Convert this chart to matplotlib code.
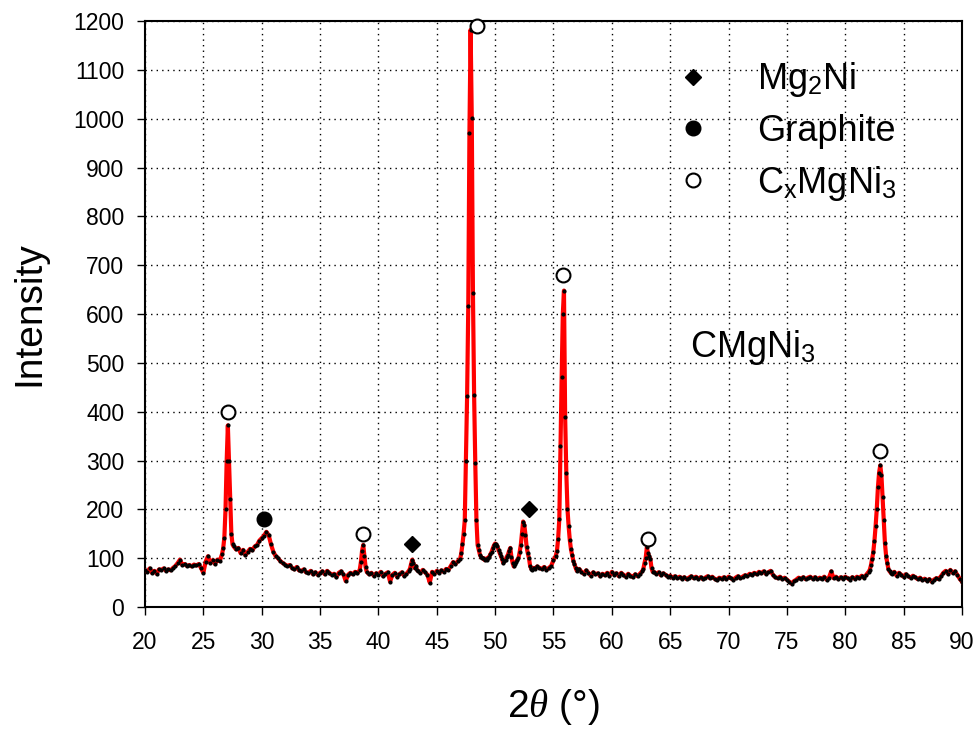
import numpy as np
import matplotlib
matplotlib.use('Agg')
import matplotlib.pyplot as plt
from matplotlib.lines import Line2D

# fonts: Arial-like text, sans subscripts
plt.rcParams['font.family'] = ['Liberation Sans', 'DejaVu Sans']
plt.rcParams['mathtext.fontset'] = 'custom'
plt.rcParams['mathtext.rm'] = 'Liberation Sans'
plt.rcParams['mathtext.it'] = 'Liberation Serif:italic'
plt.rcParams['mathtext.bf'] = 'Liberation Sans:bold'

# XRD pattern, in pieces (start 2theta, step, intensities)
base_a = [75, 72, 79, 70, 74, 68, 77, 76, 79, 74, 77, 75, 80, 84, 90, 97, 86, 88, 84, 86,
          83, 87, 85, 88, 80, 70, 93, 104, 90, 96, 88, 97, 94, 108]
peak_27 = [120, 142, 200, 300, 372, 300, 222, 150, 128]
base_b = [124, 118, 121, 110, 117, 106, 113, 119, 116, 124, 127, 136, 141, 146, 154, 147, 128, 113, 104, 100,
          94, 90, 87, 84, 86, 80, 77, 82, 75, 74, 77, 71, 70, 74, 67, 71, 66, 70, 73, 67,
          74, 70, 66, 68, 61, 70, 73, 67, 53, 66, 70, 67, 72, 69, 76]
peak_39 = [92, 115, 127, 104, 82]
base_c = [72, 67, 70, 64, 69, 66, 72, 63, 68, 71, 52, 66, 70, 62, 67, 71, 64, 68, 74]
peak_43 = [78, 88, 97, 90, 80, 84, 76]
base_d = [74, 70, 76, 71, 66, 50, 72, 68, 74, 70, 75, 72, 78, 76, 84, 92, 88, 94, 98]
peak_48 = [110, 128, 150, 178, 300, 432, 616, 971, 1182, 1001, 643, 434, 295, 178, 127, 117, 107, 102, 100]
base_e = [100, 96, 99, 97, 101, 103, 108, 113, 120, 126, 130, 128, 124, 116, 110, 104, 98, 90, 94, 97,
          103, 107, 115, 121, 102, 90, 83, 88, 93, 97, 100, 112, 127, 150, 175, 168, 148, 123, 110, 100,
          84, 78, 76, 80, 78]
base_f = [83, 80, 78, 82, 76, 80, 84, 96, 105]
peak_56 = [115, 140, 180, 330, 470, 600, 648, 390, 275, 200, 165, 137, 118, 106, 95, 88, 80]
base_g = [74, 78, 72, 68, 75, 70, 64, 71, 67, 69, 63, 68, 65, 70, 64, 72, 66, 69, 63, 70,
          66, 62, 68, 64, 61, 67, 63, 68, 73]
peak_63 = [78, 90, 100, 122, 110, 104, 98, 80, 72]
base_h = [72, 68, 71, 65, 69, 66, 62, 64, 60, 63, 59, 62, 58, 61, 57, 60, 63, 59, 62, 58,
          61, 57, 60, 63, 59, 62, 58, 55, 60, 58, 61, 57, 62, 59, 56, 60, 63, 59, 62, 65,
          63, 68, 66, 70, 67, 72, 69, 73, 68, 71, 74, 66, 61, 59, 62, 57, 60, 56, 52, 48,
          53, 56, 60, 58, 61, 57, 60, 62, 58, 61, 57, 60, 58, 62, 56, 60, 73, 59, 62, 57,
          61, 58, 62, 59, 56, 61, 58, 62, 59, 64, 60, 66, 72]
peak_83 = [76, 85, 98, 112, 135, 165, 200, 245, 275, 290, 270, 225, 178, 131, 105, 90, 78, 73, 70]
base_i = [68, 72, 64, 70, 66, 62, 67, 63, 60, 64, 61, 57, 60, 55, 58, 54, 57, 52, 56, 59,
          57, 63, 70, 74, 68, 76, 70, 73, 66, 58, 52]

pieces = [(20.0, 0.2, base_a), (26.7, 0.1, peak_27), (27.6, 0.2, base_b), (38.5, 0.1, peak_39),
          (39.0, 0.2, base_c), (42.7, 0.1, peak_43), (43.4, 0.2, base_d), (47.1, 0.1, peak_48),
          (49.0, 0.1, base_e), (53.6, 0.2, base_f), (55.3, 0.1, peak_56), (57.0, 0.2, base_g),
          (62.7, 0.1, peak_63), (63.6, 0.2, base_h), (82.1, 0.1, peak_83), (84.0, 0.2, base_i)]

two_theta = np.concatenate([s + d * np.arange(len(v)) for s, d, v in pieces])
intensity = np.concatenate([v for s, d, v in pieces])

# phase markers
cxmgni3_x = [27.1, 38.7, 48.45, 55.8, 63.1, 83.0]
cxmgni3_y = [400, 150, 1190, 680, 140, 320]
graphite_x = [30.2]
graphite_y = [180]
mg2ni_x = [42.9, 52.9]
mg2ni_y = [130, 200]

fig = plt.figure(figsize=(9.77, 7.30), dpi=100)
ax = fig.add_axes([0.1484, 0.1685, 0.8362, 0.8027])

ax.plot(two_theta, intensity, color='red', lw=3, marker='o', ms=2,
        mfc='black', mec='black', zorder=3)

ax.plot(mg2ni_x, mg2ni_y, 'D', color='black', ms=8.5, ls='none', zorder=4, clip_on=False)
ax.plot(graphite_x, graphite_y, 'o', color='black', ms=10.5, ls='none', zorder=4, clip_on=False)
ax.plot(cxmgni3_x, cxmgni3_y, 'o', mfc='white', mec='black', mew=1.5, ms=10,
        ls='none', zorder=4, clip_on=False)

ax.set_xlim(20, 90)
ax.set_ylim(0, 1200)
ax.set_xticks(np.arange(20, 91, 5))
ax.set_yticks(np.arange(0, 1201, 100))
ax.tick_params(direction='out', length=6, width=1, labelsize=16.5)
ax.tick_params(axis='x', pad=11)
ax.tick_params(axis='y', pad=9)
for sp in ax.spines.values():
    sp.set_linewidth(1.5)

ax.grid(True, linestyle=(0, (1, 3)), color='black', linewidth=1)
ax.set_axisbelow(True)

ax.set_ylabel('Intensity', fontsize=28)
ax.set_xlabel(r'2$\theta$ (°)', fontsize=28)
ax.yaxis.set_label_coords(-0.119, 0.5)
ax.xaxis.set_label_coords(0.5, -0.137)

ax.text(0.667, 0.442, r'CMgNi$_3$', transform=ax.transAxes, fontsize=26, va='center', ha='left')

handles = [Line2D([], [], marker='D', color='black', ls='none', ms=8.5),
           Line2D([], [], marker='o', color='black', ls='none', ms=10.5),
           Line2D([], [], marker='o', mfc='white', mec='black', mew=1.5, ls='none', ms=10)]
labels = [r'Mg$_2$Ni', 'Graphite', r'C$_\mathrm{x}$MgNi$_3$']
ax.legend(handles, labels, loc='upper left', bbox_to_anchor=(0.6487, 0.933),
          frameon=False, fontsize=26, borderpad=0, borderaxespad=0,
          handlelength=1, handletextpad=1.27, labelspacing=0.41)

plt.savefig('out.png', dpi=100)
